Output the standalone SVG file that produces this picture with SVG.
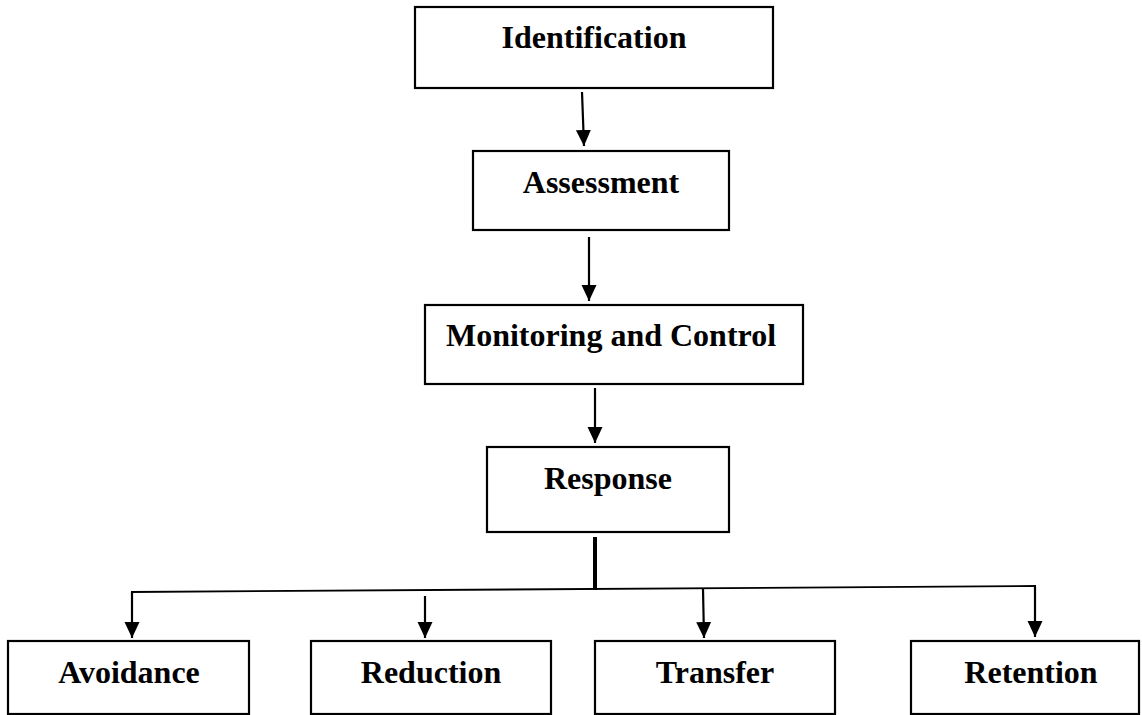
<svg xmlns="http://www.w3.org/2000/svg" width="1142" height="715" viewBox="0 0 1142 715">
  <style>
    .box { fill: #ffffff; stroke: #000000; stroke-width: 2.2; }
    .label { font-family: "Liberation Serif", "Times New Roman", serif; font-weight: bold; font-size: 32px; fill: #000000; text-anchor: middle; }
    .link { fill: none; stroke: #000000; stroke-width: 2.2; }
    .arrow { marker-end: url(#head); }
    .trunk { fill: none; stroke: #000000; stroke-width: 4; }
    .bar { fill: none; stroke: #000000; stroke-width: 1.8; }
  </style>
  <defs>
    <marker id="head" markerUnits="userSpaceOnUse" markerWidth="16" markerHeight="16" refX="16" refY="8" orient="auto">
      <path d="M0,0.5 L16,8 L0,15.5 z" fill="#000000"/>
    </marker>
  </defs>

  <rect width="1142" height="715" fill="#ffffff"/>

  <!-- main chain -->
  <g id="identification">
    <rect class="box" x="415" y="7" width="358" height="81"/>
    <text class="label" x="594" y="48">Identification</text>
  </g>
  <g id="assessment">
    <rect class="box" x="473" y="151" width="256" height="79"/>
    <text class="label" x="601" y="193">Assessment</text>
  </g>
  <g id="monitoring">
    <rect class="box" x="425" y="305" width="378" height="79"/>
    <text class="label" x="611" y="346">Monitoring and Control</text>
  </g>
  <g id="response">
    <rect class="box" x="487" y="447" width="242" height="85"/>
    <text class="label" x="608" y="489">Response</text>
  </g>

  <!-- response options -->
  <g id="avoidance">
    <rect class="box" x="8" y="641" width="241" height="73"/>
    <text class="label" x="129" y="683">Avoidance</text>
  </g>
  <g id="reduction">
    <rect class="box" x="311" y="641" width="240" height="73"/>
    <text class="label" x="431" y="683">Reduction</text>
  </g>
  <g id="transfer">
    <rect class="box" x="595" y="641" width="240" height="73"/>
    <text class="label" x="715" y="683">Transfer</text>
  </g>
  <g id="retention">
    <rect class="box" x="911" y="641" width="228" height="73"/>
    <text class="label" x="1031" y="683">Retention</text>
  </g>

  <!-- connectors -->
  <g id="connectors">
    <line class="link arrow" x1="582" y1="92" x2="584" y2="146"/>
    <line class="link arrow" x1="589" y1="237" x2="589" y2="301"/>
    <line class="link arrow" x1="595" y1="388" x2="595" y2="443"/>
    <line class="trunk" x1="595" y1="537" x2="595" y2="590"/>
    <line class="bar" x1="131" y1="592" x2="1036" y2="586"/>
    <line class="link arrow" x1="132" y1="592" x2="132" y2="638"/>
    <line class="link arrow" x1="425" y1="596" x2="425" y2="638"/>
    <line class="link arrow" x1="703" y1="589" x2="704" y2="638"/>
    <line class="link arrow" x1="1035" y1="586" x2="1035" y2="637"/>
  </g>
</svg>
